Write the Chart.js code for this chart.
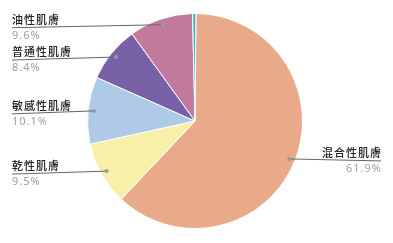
<!DOCTYPE html>
<html>
<head>
<meta charset="utf-8">
<script src="https://cdn.jsdelivr.net/npm/chart.js@4"></script>
<style>
html,body{margin:0;padding:0;background:#fff;}
#wrap{width:393px;height:243px;}
</style>
</head>
<body>
<div id="wrap"><canvas id="c" width="393" height="243"></canvas></div>
<script>
const categories = ['混合性肌膚', '乾性肌膚', '敏感性肌膚', '普通性肌膚', '油性肌膚', '其他'];
const values = [61.9, 9.5, 10.1, 8.4, 9.6, 0.5];
const pctLabels = ['61.9%', '9.5%', '10.1%', '8.4%', '9.6%', ''];
const colors = ['#E9AA8A', '#F8F0A8', '#AFCAE7', '#7861A7', '#C27B9F', '#3DB7C5'];

const labelPlugin = {
  id: 'leaderLabels',
  afterDatasetsDraw(chart) {
    const ctx = chart.ctx;
    const meta = chart.getDatasetMeta(0);
    meta.data.forEach((arc, i) => {
      if (!pctLabels[i]) return;
      const mid = (arc.startAngle + arc.endAngle) / 2;
      const r = arc.outerRadius * 0.945;
      const px = arc.x + Math.cos(mid) * r;
      const py = arc.y + Math.sin(mid) * r;
      const right = Math.cos(mid) > 0;
      const ex = right ? 381 : 12;
      const ey = py + (right ? 2 : 3);
      ctx.save();
      ctx.strokeStyle = '#666';
      ctx.lineWidth = 1;
      ctx.beginPath();
      ctx.moveTo(px, py);
      ctx.lineTo(ex, ey);
      ctx.stroke();
      ctx.fillStyle = '#999';
      ctx.beginPath();
      ctx.arc(px, py, 2, 0, Math.PI * 2);
      ctx.fill();
      ctx.textAlign = right ? 'right' : 'left';
      ctx.textBaseline = 'middle';
      ctx.letterSpacing = '1px';
      ctx.fillStyle = '#222';
      ctx.font = '500 11px "Noto Sans CJK TC", "Noto Sans", sans-serif';
      ctx.fillText(categories[i], right ? ex + 1 : ex, ey - 8);
      ctx.fillStyle = '#a0a0a0';
      ctx.font = '11px "Noto Sans", sans-serif';
      ctx.fillText(pctLabels[i], right ? ex + 1 : ex, ey + 8);
      ctx.restore();
    });
  }
};

new Chart(document.getElementById('c'), {
  type: 'pie',
  data: {
    labels: categories,
    datasets: [{
      data: values,
      backgroundColor: colors,
      borderColor: '#fff',
      borderWidth: 1
    }]
  },
  options: {
    responsive: false,
    animation: false,
    rotation: 0.5,
    layout: { padding: { top: 13, bottom: 14, left: 0, right: 3 } },
    plugins: { legend: { display: false }, tooltip: { enabled: false } }
  },
  plugins: [labelPlugin]
});
</script>
</body>
</html>
